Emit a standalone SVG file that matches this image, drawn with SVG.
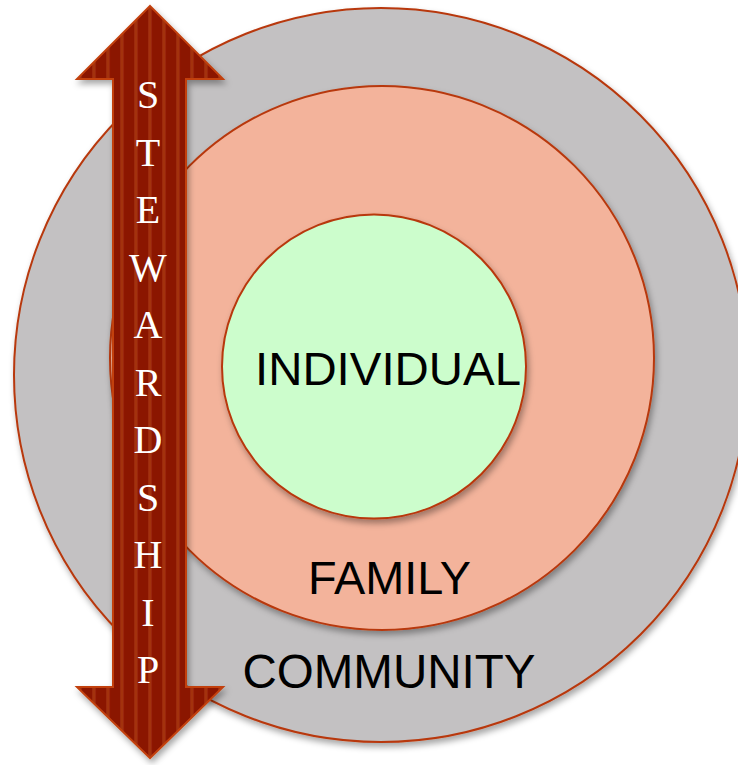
<svg xmlns="http://www.w3.org/2000/svg" width="738" height="765" viewBox="0 0 738 765">
  <style>
    .ring { stroke: #b8380c; stroke-width: 2; filter: url(#shadow); }
    .label { font-family: "Liberation Sans", Arial, sans-serif; fill: #000; text-anchor: middle; }
    .letter { font-family: "Liberation Serif", "Times New Roman", serif; font-size: 40px; fill: #fff; text-anchor: middle; }
  </style>
  <defs>
    <filter id="shadow" x="-10%" y="-10%" width="120%" height="120%">
      <feDropShadow dx="2" dy="4" stdDeviation="3" flood-color="#000" flood-opacity="0.35"/>
    </filter>
    <!-- vertical pin-stripes on the arrow body, one centred on the axis -->
    <pattern id="stripes" patternUnits="userSpaceOnUse" x="8.25" y="0" width="14" height="20">
      <rect width="14" height="20" fill="#8b1400"/>
      <rect x="0" width="3.5" height="20" fill="#a3330f"/>
    </pattern>
  </defs>

  <!-- concentric circles -->
  <g id="community">
    <circle class="ring" cx="381" cy="375" r="367" fill="#c3c1c2"/>
    <text class="label" x="389" y="688" font-size="48" textLength="293" lengthAdjust="spacingAndGlyphs">COMMUNITY</text>
  </g>
  <g id="family">
    <circle class="ring" cx="382" cy="358" r="272" fill="#f3b39b"/>
    <text class="label" x="389.5" y="594" font-size="47" textLength="163" lengthAdjust="spacingAndGlyphs">FAMILY</text>
  </g>
  <g id="individual">
    <circle class="ring" cx="374" cy="366.5" r="152" fill="#ccfdcc"/>
    <text class="label" x="388" y="385" font-size="46" textLength="266" lengthAdjust="spacingAndGlyphs">INDIVIDUAL</text>
  </g>

  <!-- double-headed stewardship arrow -->
  <g id="stewardship">
    <path d="M150,6 L223,79 L186,79 L186,687 L223,687 L150,758 L77,687 L113,687 L113,79 L77,79 Z"
          fill="url(#stripes)" stroke="#c2410f" stroke-width="2" stroke-linejoin="miter" filter="url(#shadow)"/>
    <text class="letter" x="148" y="108">S</text>
    <text class="letter" x="148" y="165.5">T</text>
    <text class="letter" x="148" y="223">E</text>
    <text class="letter" x="148" y="280.5">W</text>
    <text class="letter" x="148" y="338">A</text>
    <text class="letter" x="148" y="395.5">R</text>
    <text class="letter" x="148" y="453">D</text>
    <text class="letter" x="148" y="510.5">S</text>
    <text class="letter" x="148" y="568">H</text>
    <text class="letter" x="148" y="625.5">I</text>
    <text class="letter" x="148" y="683">P</text>
  </g>
</svg>
